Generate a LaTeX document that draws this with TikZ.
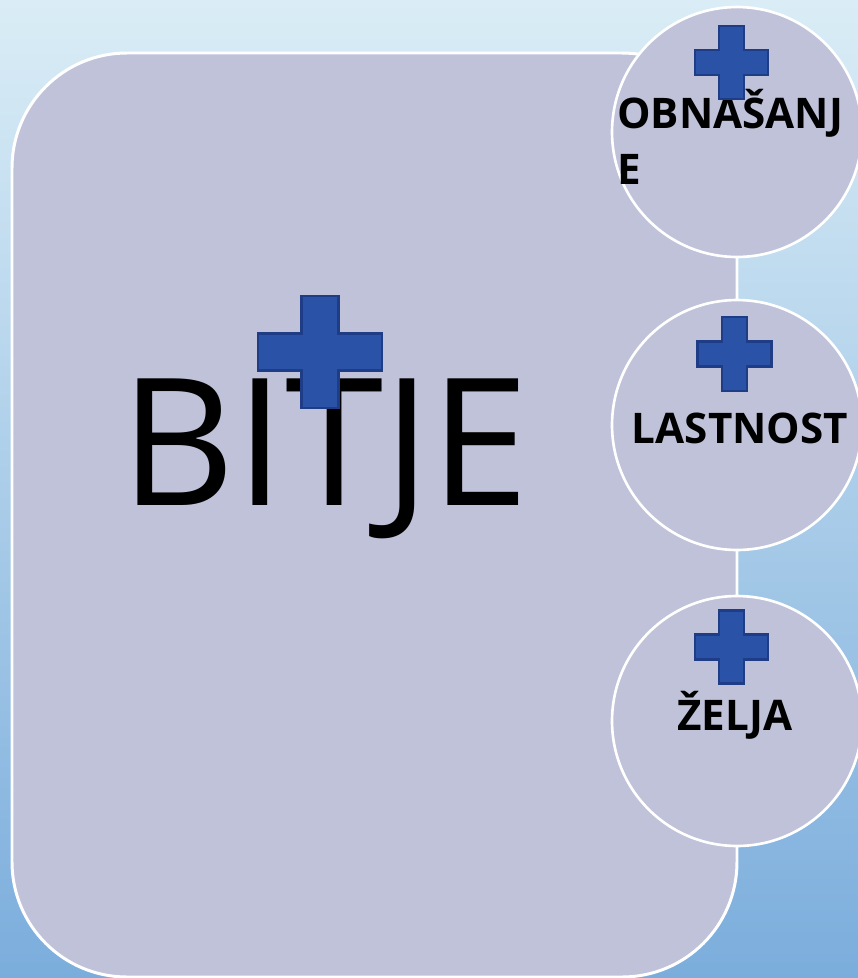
\documentclass[tikz,border=0pt]{standalone}
\usepackage{fontspec}
\setmainfont{Open Sans}
\usetikzlibrary{positioning}

\definecolor{bgtop}{HTML}{DAEDF6}
\definecolor{bgmid}{HTML}{C3DEF0}
\definecolor{bgbottom}{HTML}{7BADDC}
\definecolor{panelfill}{HTML}{BFC2D9}
\definecolor{plusfill}{HTML}{2A52A7}
\definecolor{plusline}{HTML}{1E3D86}

\tikzset{
  panel/.style={draw=white, line width=1.7pt, fill=panelfill},
  bubble/.style={circle, draw=white, line width=1.5pt, fill=panelfill,
    minimum size=5cm, inner sep=0pt},
  plusmark/.style={draw=plusline, line width=1.2pt, fill=plusfill, line join=miter},
  bubbletext/.style={font=\fontsize{24}{31.7}\selectfont\bfseries, inner sep=0pt}
}

% Plus-Kreuz: Mitte, halbe Breite, halbe Hoehe, halbe Balkenstaerke
\newcommand{\pluscross}[4]{%
  \draw[plusmark, shift={(#1)}] (-#4,-#3) -- (#4,-#3) -- (#4,-#4) -- (#2,-#4)
    -- (#2,#4) -- (#4,#4) -- (#4,#3) -- (-#4,#3) -- (-#4,#4) -- (-#2,#4)
    -- (-#2,-#4) -- (-#4,-#4) -- cycle;}

\begin{document}
\begin{tikzpicture}[x=0.02cm, y=-0.02cm]
  % Hintergrund
  \useasboundingbox (0,0) rectangle (858,978);
  \shade[top color=bgtop, middle color=bgmid, bottom color=bgbottom] (0,0) rectangle (858,978);

  % Hauptfeld
  \draw[panel, rounded corners=2.3cm] (12,53) rectangle (737,977);
  \node[anchor=base, inner sep=0pt, font=\fontsize{101}{110}\selectfont] (bitje) at (325,505) {BITJE};
  \pluscross{320,352}{62}{56}{18.5}

  % Kreise rechts
  \node[bubble] (obnasanje) at (737,132) {};
  \node[bubble] (lastnost) at (737,425) {};
  \node[bubble] (zelja) at (737,721) {};

  \node[bubbletext, anchor=base west, align=left] (obnasanjetext) at (617,184) {OBNAŠANJ\\E};
  \node[bubbletext, anchor=base] (lastnosttext) at (740,443) {LASTNOST};
  \node[bubbletext, anchor=base] (zeljatext) at (735,730) {ŽELJA};

  \pluscross{731.5,62.5}{36.5}{36.5}{12.5}
  \pluscross{734.5,354}{37}{37}{12.5}
  \pluscross{731.5,647}{36.5}{36.5}{12.5}
\end{tikzpicture}
\end{document}
